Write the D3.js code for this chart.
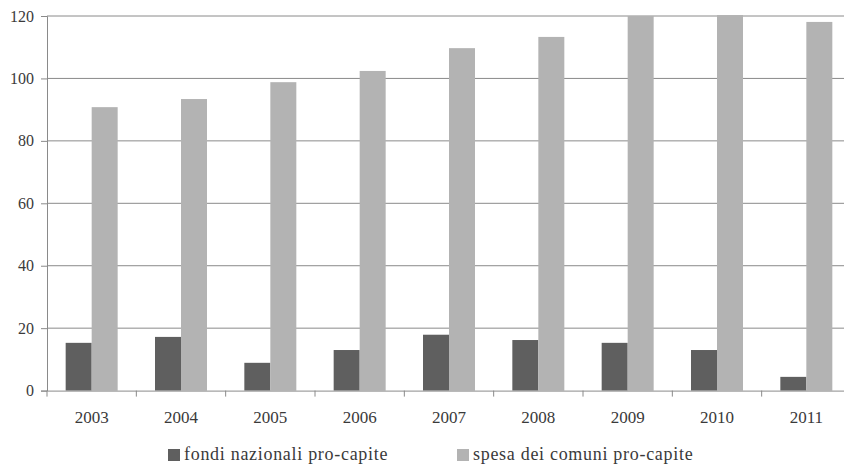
<!DOCTYPE html>
<html>
<head>
<meta charset="utf-8">
<script src="https://cdn.jsdelivr.net/npm/d3@7"></script>
<style>
  html, body { margin: 0; padding: 0; background: #fff; }
  svg { display: block; }
  svg text { font-family: "Liberation Serif", "Times New Roman", "DejaVu Serif", serif; fill: #3a3a3a; }
</style>
</head>
<body>
<svg id="chart" width="844" height="468"></svg>
<script>
// Anni e valori pro-capite
const years = ["2003", "2004", "2005", "2006", "2007", "2008", "2009", "2010", "2011"];
const fondiNazionali = [15.3, 17.2, 8.9, 13.0, 17.9, 16.2, 15.3, 13.0, 4.4];
const spesaComuni = [90.8, 93.4, 98.8, 102.4, 109.7, 113.3, 120.0, 120.3, 118.1];
const yTicks = [0, 20, 40, 60, 80, 100, 120];
const seriesNames = ["fondi nazionali pro-capite", "spesa dei comuni pro-capite"];
const seriesColors = ["#5f5f5f", "#b3b3b3"];

const svg = d3.select("#chart");
const margin = { left: 47, right: 851, top: 16, bottom: 390.6 };

const x = d3.scaleBand().domain(years).range([margin.left, margin.right]).paddingInner(0).paddingOuter(0);
const xs = d3.scaleBand().domain([0, 1]).range([0, x.bandwidth()]).paddingInner(0).paddingOuter(0.718);
const y = d3.scaleLinear().domain([0, 120]).range([margin.bottom, margin.top]);

// griglia orizzontale
svg.append("g")
  .selectAll("line")
  .data(yTicks.filter(d => d > 0))
  .join("line")
  .attr("x1", margin.left).attr("x2", margin.right)
  .attr("y1", d => y(d)).attr("y2", d => y(d))
  .attr("stroke", "#8a8a8a").attr("stroke-width", 1);

// barre
const rows = years.map((yr, i) => ({ yr, vals: [fondiNazionali[i], spesaComuni[i]] }));
const groups = svg.append("g").selectAll("g")
  .data(rows).join("g")
  .attr("transform", d => `translate(${x(d.yr)},0)`);
groups.selectAll("rect")
  .data(d => d.vals.map((v, k) => ({ v, k })))
  .join("rect")
  .attr("x", d => xs(d.k))
  .attr("width", xs.bandwidth())
  .attr("y", d => y(d.v))
  .attr("height", d => y(0) - y(d.v))
  .attr("fill", d => seriesColors[d.k]);

// asse y
const yAxis = svg.append("g")
  .attr("transform", `translate(${margin.left},0)`)
  .call(d3.axisLeft(y).tickValues(yTicks).tickSize(6).tickPadding(7));
yAxis.attr("font-family", null);
yAxis.select(".domain").attr("stroke", "#8a8a8a");
yAxis.selectAll(".tick line").attr("stroke", "#8a8a8a");
yAxis.selectAll(".tick text").attr("font-size", 16).attr("fill", "#3a3a3a");

// asse x
const xAxis = svg.append("g")
  .attr("transform", `translate(0,${margin.bottom})`)
  .call(d3.axisBottom(x).tickSizeInner(0).tickSizeOuter(0).tickPadding(20));
xAxis.attr("font-family", null);
xAxis.select(".domain").attr("stroke", "#8a8a8a");
xAxis.selectAll(".tick text").attr("font-size", 17).attr("fill", "#3a3a3a");

// tacche fra le categorie
svg.append("g").selectAll("line")
  .data(years)
  .join("line")
  .attr("x1", d => x(d)).attr("x2", d => x(d))
  .attr("y1", margin.bottom).attr("y2", margin.bottom + 6)
  .attr("stroke", "#8a8a8a");

// legenda
const legendX = [168, 457];
const legend = svg.append("g").selectAll("g")
  .data(seriesNames).join("g")
  .attr("transform", (d, i) => `translate(${legendX[i]},449)`);
legend.append("rect")
  .attr("width", 12).attr("height", 12)
  .attr("fill", (d, i) => seriesColors[i]);
legend.append("text")
  .attr("x", 16).attr("y", 11)
  .attr("font-size", 18)
  .attr("letter-spacing", 0.7)
  .text(d => d);
</script>
</body>
</html>
